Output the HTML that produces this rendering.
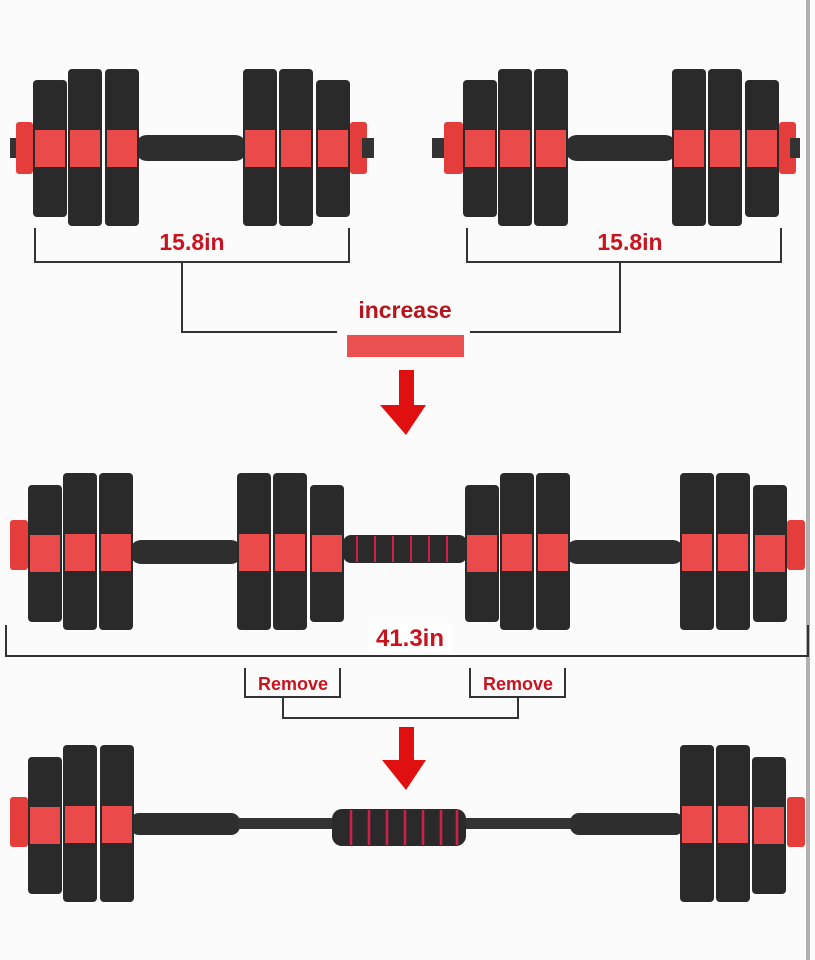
<!DOCTYPE html>
<html><head><meta charset="utf-8"><style>
html,body{margin:0;padding:0;background:#fff;}
svg{display:block;}
text{font-family:"Liberation Sans",sans-serif;font-weight:bold;}
</style></head><body>
<svg width="815" height="960" viewBox="0 0 815 960" xmlns="http://www.w3.org/2000/svg">
<rect width="815" height="960" fill="#fbfbfb"/>
<rect x="806" y="0" width="4" height="960" fill="#b0b0b0"/>
<defs>
<g id="pt"><rect x="0" y="0" width="34" height="157" rx="4" fill="#2a2a2a"/><rect x="2" y="61" width="30" height="37" fill="#ea4a4a"/></g>
<g id="ps"><rect x="0" y="0" width="34" height="137" rx="4" fill="#2a2a2a"/><rect x="2" y="50" width="30" height="37" fill="#ea4a4a"/></g>
</defs>

<!-- TOP DUMBBELL 1 -->
<rect x="10" y="138" width="12" height="20" fill="#333"/>
<rect x="16" y="122" width="17" height="52" rx="3" fill="#e53c3c"/>
<rect x="350" y="122" width="17" height="52" rx="3" fill="#e53c3c"/>
<rect x="362" y="138" width="12" height="20" fill="#333"/>
<rect x="135" y="135" width="112" height="26" rx="12" fill="#2e2e2e"/>
<use href="#ps" x="33" y="80"/><use href="#pt" x="68" y="69"/><use href="#pt" x="105" y="69"/>
<use href="#pt" x="243" y="69"/><use href="#pt" x="279" y="69"/><use href="#ps" x="316" y="80"/>

<!-- TOP DUMBBELL 2 -->
<rect x="432" y="138" width="12" height="20" fill="#333"/>
<rect x="444" y="122" width="19" height="52" rx="3" fill="#e53c3c"/>
<rect x="779" y="122" width="17" height="52" rx="3" fill="#e53c3c"/>
<rect x="790" y="138" width="10" height="20" fill="#333"/>
<rect x="565" y="135" width="112" height="26" rx="12" fill="#2e2e2e"/>
<use href="#ps" x="463" y="80"/><use href="#pt" x="498" y="69"/><use href="#pt" x="534" y="69"/>
<use href="#pt" x="672" y="69"/><use href="#pt" x="708" y="69"/><use href="#ps" x="745" y="80"/>

<!-- brackets top -->
<g stroke="#333" stroke-width="2" fill="none">
<polyline points="35,228 35,262 349,262 349,228"/>
<polyline points="467,228 467,262 781,262 781,228"/>
<polyline points="182,262 182,332 337,332"/>
<polyline points="620,262 620,332 470,332"/>
</g>
<text x="192" y="250" font-size="23" fill="#c8141e" text-anchor="middle">15.8in</text>
<text x="630" y="250" font-size="23" fill="#c8141e" text-anchor="middle">15.8in</text>
<text x="405" y="318" font-size="23" fill="#b8141e" text-anchor="middle">increase</text>
<rect x="347" y="335" width="117" height="22" fill="#ea5050"/>
<polygon points="399,370 414,370 414,405 426,405 406,435 380,405 399,405" fill="#e01010"/>

<!-- MIDDLE -->
<rect x="10" y="520" width="18" height="50" rx="3" fill="#e53c3c"/>
<rect x="787" y="520" width="18" height="50" rx="3" fill="#e53c3c"/>
<rect x="130" y="540" width="112" height="24" rx="11" fill="#2e2e2e"/>
<rect x="566" y="540" width="118" height="24" rx="11" fill="#2e2e2e"/>
<rect x="343" y="535" width="124" height="28" rx="8" fill="#2a2a2a"/>
<g stroke="#d0204a" stroke-width="2">
<line x1="357" y1="536" x2="357" y2="562"/><line x1="375" y1="536" x2="375" y2="562"/><line x1="393" y1="536" x2="393" y2="562"/><line x1="411" y1="536" x2="411" y2="562"/><line x1="429" y1="536" x2="429" y2="562"/><line x1="447" y1="536" x2="447" y2="562"/>
</g>
<use href="#ps" x="28" y="485"/><use href="#pt" x="63" y="473"/><use href="#pt" x="99" y="473"/>
<use href="#pt" x="237" y="473"/><use href="#pt" x="273" y="473"/><use href="#ps" x="310" y="485"/>
<use href="#ps" x="465" y="485"/><use href="#pt" x="500" y="473"/><use href="#pt" x="536" y="473"/>
<use href="#pt" x="680" y="473"/><use href="#pt" x="716" y="473"/><use href="#ps" x="753" y="485"/>

<g stroke="#333" stroke-width="2" fill="none">
<polyline points="6,625 6,656 808,656 808,625"/>
<polyline points="245,668 245,697 340,697 340,668"/>
<polyline points="470,668 470,697 565,697 565,668"/>
<polyline points="283,697 283,718 518,718 518,697"/>
</g>
<rect x="368" y="623" width="84" height="28" fill="#fff"/>
<text x="410" y="646" font-size="24" fill="#c8141e" text-anchor="middle">41.3in</text>
<text x="293" y="690" font-size="18" fill="#c8141e" text-anchor="middle">Remove</text>
<text x="518" y="690" font-size="18" fill="#c8141e" text-anchor="middle">Remove</text>
<polygon points="399,727 414,727 414,760 426,760 406,790 382,760 399,760" fill="#e01010"/>

<!-- BOTTOM -->
<rect x="10" y="797" width="18" height="50" rx="3" fill="#e53c3c"/>
<rect x="787" y="797" width="18" height="50" rx="3" fill="#e53c3c"/>
<rect x="130" y="813" width="110" height="22" rx="9" fill="#2e2e2e"/>
<rect x="238" y="818" width="100" height="11" fill="#333"/>
<rect x="462" y="818" width="110" height="11" fill="#333"/>
<rect x="570" y="813" width="114" height="22" rx="9" fill="#2e2e2e"/>
<rect x="332" y="809" width="134" height="37" rx="10" fill="#2a2a2a"/>
<g stroke="#d0204a" stroke-width="2.5">
<line x1="351" y1="810" x2="351" y2="845"/><line x1="369" y1="810" x2="369" y2="845"/><line x1="387" y1="810" x2="387" y2="845"/><line x1="405" y1="810" x2="405" y2="845"/><line x1="423" y1="810" x2="423" y2="845"/><line x1="441" y1="810" x2="441" y2="845"/><line x1="457" y1="810" x2="457" y2="845"/>
</g>
<use href="#ps" x="28" y="757"/><use href="#pt" x="63" y="745"/><use href="#pt" x="100" y="745"/>
<use href="#pt" x="680" y="745"/><use href="#pt" x="716" y="745"/><use href="#ps" x="752" y="757"/>
</svg>
</body></html>
